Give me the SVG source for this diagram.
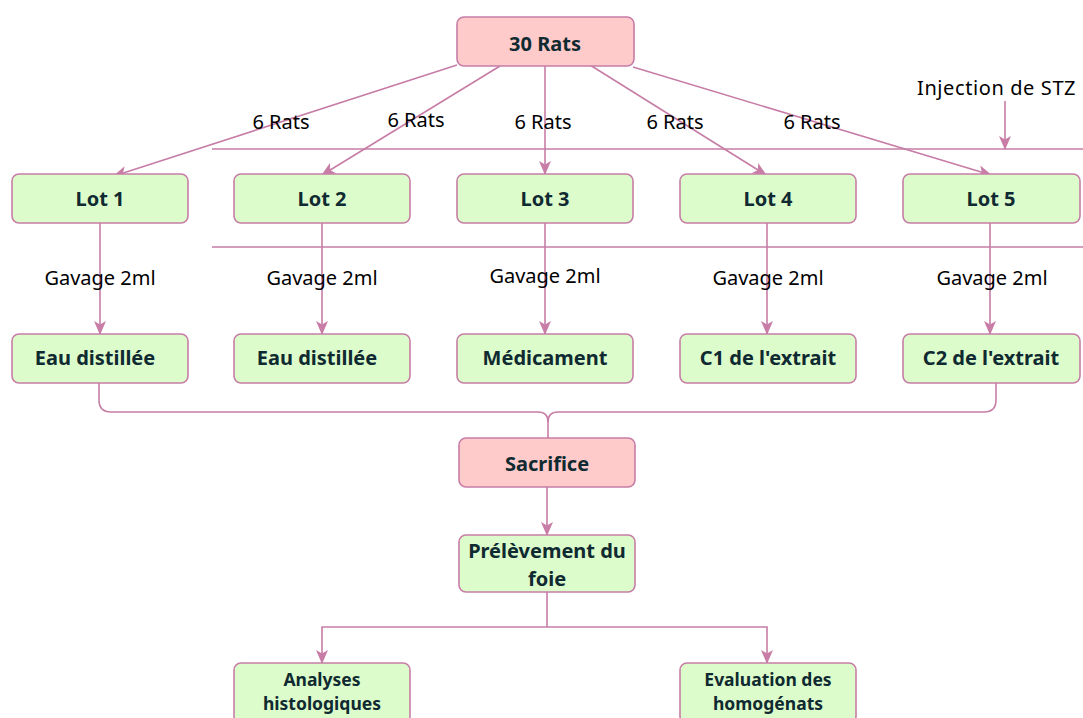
<svg xmlns="http://www.w3.org/2000/svg" width="1083" height="718" viewBox="0 0 1083 718">
<style>
.box{stroke:#C77DA6;stroke-width:1.6}
.g{fill:#DDFCCB}
.p{fill:#FFCACA}
.nt{font-family:"Comic Sans MS","Noto Sans","DejaVu Sans",sans-serif;font-weight:bold;font-size:20px;fill:#0F2A30;text-anchor:middle;dominant-baseline:central}
.sm{font-size:17.5px}
.lt{font-family:"Comic Sans MS","Noto Sans","DejaVu Sans",sans-serif;font-size:20px;fill:#000;text-anchor:middle;dominant-baseline:central}
.c{fill:none;stroke:#C77DA6;stroke-width:1.6}
.a{marker-end:url(#arr)}
</style>
<defs>
<marker id="arr" markerUnits="userSpaceOnUse" markerWidth="14" markerHeight="12" viewBox="0 0 14 12" refX="13" refY="6" orient="auto">
<path d="M0,0 L14,6 L0,12 L3.5,6 z" fill="#C77DA6"/>
</marker>
</defs>
<g id="connectors">
<line class="c a" x1="457" y1="65" x2="114" y2="176"/>
<line class="c a" x1="500" y1="66" x2="322" y2="175"/>
<line class="c a" x1="545" y1="66" x2="545" y2="174"/>
<line class="c a" x1="590" y1="65" x2="766" y2="175"/>
<line class="c a" x1="633" y1="67" x2="991" y2="175"/>
<line class="c" x1="212" y1="149" x2="1083" y2="149"/>
<line class="c" x1="212" y1="247" x2="1083" y2="247"/>
<line class="c a" x1="1005" y1="101" x2="1005" y2="149"/>
<line class="c a" x1="100" y1="223" x2="100" y2="334"/>
<line class="c a" x1="322" y1="223" x2="322" y2="334"/>
<line class="c a" x1="545" y1="223" x2="545" y2="334"/>
<line class="c a" x1="767" y1="223" x2="767" y2="334"/>
<line class="c a" x1="990" y1="223" x2="990" y2="334"/>
<path class="c" d="M99,383 V400 Q99,412 111,412 H538 Q548,412 548,422 V438"/>
<path class="c" d="M996,383 V400 Q996,412 984,412 H558 Q548,412 548,422"/>
<line class="c a" x1="547" y1="487" x2="547" y2="535"/>
<path class="c" d="M547,592 V627"/>
<path class="c a" d="M547,627 H322 V663"/>
<path class="c a" d="M547,627 H767 V663"/>
<text class="lt" x="281" y="121">6 Rats</text>
<text class="lt" x="416" y="119">6 Rats</text>
<text class="lt" x="543" y="121">6 Rats</text>
<text class="lt" x="675" y="121">6 Rats</text>
<text class="lt" x="812" y="121">6 Rats</text>
<text class="lt" x="917" y="87" style="text-anchor:start;letter-spacing:0.6px">Injection de STZ</text>
<text class="lt" x="100" y="277">Gavage 2ml</text>
<text class="lt" x="322" y="277">Gavage 2ml</text>
<text class="lt" x="545" y="275">Gavage 2ml</text>
<text class="lt" x="768" y="277">Gavage 2ml</text>
<text class="lt" x="992" y="277">Gavage 2ml</text>
</g>
<g id="n30rats"><rect class="box p" x="457" y="17" width="177" height="49" rx="7"/><text class="nt" x="545" y="43">30 Rats</text></g>
<g id="lot1"><rect class="box g" x="12" y="174" width="176" height="49" rx="7"/><text class="nt" x="100" y="198">Lot 1</text></g>
<g id="lot2"><rect class="box g" x="234" y="174" width="176" height="49" rx="7"/><text class="nt" x="322" y="198">Lot 2</text></g>
<g id="lot3"><rect class="box g" x="457" y="174" width="176" height="49" rx="7"/><text class="nt" x="545" y="198">Lot 3</text></g>
<g id="lot4"><rect class="box g" x="680" y="174" width="176" height="49" rx="7"/><text class="nt" x="768" y="198">Lot 4</text></g>
<g id="lot5"><rect class="box g" x="903" y="174" width="177" height="49" rx="7"/><text class="nt" x="991" y="198">Lot 5</text></g>
<g id="eau1"><rect class="box g" x="12" y="334" width="176" height="49" rx="7"/><text class="nt" x="95" y="357">Eau distillée</text></g>
<g id="eau2"><rect class="box g" x="234" y="334" width="176" height="49" rx="7"/><text class="nt" x="317" y="357">Eau distillée</text></g>
<g id="medicament"><rect class="box g" x="457" y="334" width="176" height="49" rx="7"/><text class="nt" x="545" y="357">Médicament</text></g>
<g id="c1"><rect class="box g" x="680" y="334" width="176" height="49" rx="7"/><text class="nt" x="768" y="357">C1 de l'extrait</text></g>
<g id="c2"><rect class="box g" x="903" y="334" width="177" height="49" rx="7"/><text class="nt" x="991" y="357">C2 de l'extrait</text></g>
<g id="sacrifice"><rect class="box p" x="459" y="438" width="176" height="49" rx="7"/><text class="nt" x="547" y="463">Sacrifice</text></g>
<g id="prelevement"><rect class="box g" x="459" y="535" width="176" height="57" rx="7"/><text class="nt" x="547" y="550">Prélèvement du</text><text class="nt" x="547" y="578">foie</text></g>
<g id="analyses"><rect class="box g" x="234" y="663" width="176" height="60" rx="7"/><text class="nt sm" x="322" y="679">Analyses</text><text class="nt sm" x="322" y="703">histologiques</text></g>
<g id="evaluation"><rect class="box g" x="680" y="663" width="176" height="60" rx="7"/><text class="nt sm" x="768" y="679">Evaluation des</text><text class="nt sm" x="768" y="703">homogénats</text></g>
</svg>
